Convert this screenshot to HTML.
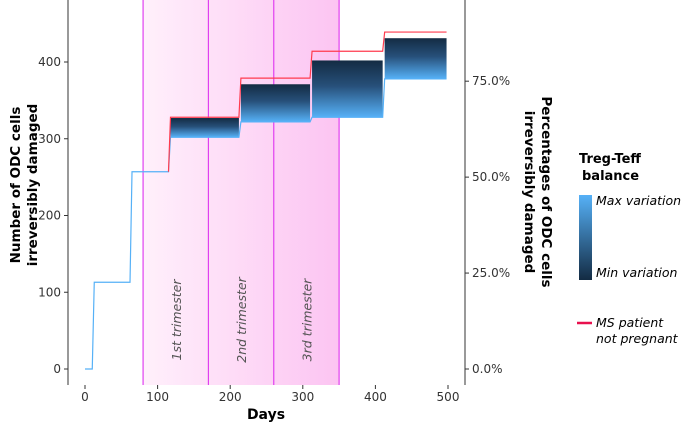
<!DOCTYPE html>
<html><head><meta charset="utf-8"><style>
body{margin:0;background:#fff;font-family:"Liberation Sans","DejaVu Sans",sans-serif}
svg text{font-family:"DejaVu Sans","Liberation Sans",sans-serif}
</style></head><body>
<svg id="chart" width="685" height="424" viewBox="0 0 685 424">
<defs>
<linearGradient id="preg" x1="0" x2="1" y1="0" y2="0"><stop offset="0" stop-color="#fff0fb"/><stop offset="1" stop-color="#fcc4f2"/></linearGradient>
<linearGradient id="band" x1="0" x2="0" y1="0" y2="1"><stop offset="0" stop-color="#132B43"/><stop offset="0.45" stop-color="#27507a"/><stop offset="1" stop-color="#56B1F7"/></linearGradient>
<linearGradient id="leg" x1="0" x2="0" y1="0" y2="1"><stop offset="0" stop-color="#56B1F7"/><stop offset="1" stop-color="#132B43"/></linearGradient>
</defs>
<g id="plot"></g>
<text x="266" y="419" font-size="14" font-weight="bold" text-anchor="middle">Days</text>
<text transform="translate(25,185) rotate(-90)" font-size="13.5" font-weight="bold" text-anchor="middle"><tspan x="0" y="-5">Number of ODC cells</tspan><tspan x="0" y="12">irreversibly damaged</tspan></text>
<text transform="translate(537,192) rotate(90)" font-size="13.5" font-weight="bold" text-anchor="middle"><tspan x="0" y="-5">Percentages of ODC cells</tspan><tspan x="0" y="12">irreversibly damaged</tspan></text>
<g>
<text x="579" y="163" font-size="13" font-weight="bold">Treg-Teff</text>
<text x="582" y="180" font-size="13" font-weight="bold">balance</text>
<rect x="579" y="195" width="13" height="85" fill="url(#leg)"/>
<text x="596" y="205" font-size="12.5" font-style="italic">Max variation</text>
<text x="596" y="277" font-size="12.5" font-style="italic">Min variation</text>
<line x1="577" x2="592" y1="323" y2="323" stroke="#e8104e" stroke-width="2.5"/>
<text x="596" y="327" font-size="12.5" font-style="italic">MS patient</text>
<text x="596" y="343" font-size="12.5" font-style="italic">not pregnant</text>
</g>
</svg>
<script>
const stepDays=[10,62,115,212,310,410];
const endDay=498;
const bandMin=[0,113,257,302,322,328,378];
const bandMax=[0,113,257,327,371,402,431];
const redLevels=[0,113,257,328,379,414,439];
const redStartStep=2;
const trimesterBounds=[80,170,260,350];
const trimesterLabels=["1st trimester","2nd trimester","3rd trimester"];
const xTicks=[0,100,200,300,400,500];
const yTicks=[0,100,200,300,400];
const pctTicks=[0,25,50,75];
const pctLabels=["0.0%","25.0%","50.0%","75.0%"];
const X=d=>85+d*0.726, Y=v=>369-v*0.7675;
const NS="http://www.w3.org/2000/svg", g=document.getElementById('plot');
function el(t,a,p){const e=document.createElementNS(NS,t);for(const k in a)e.setAttribute(k,a[k]);(p||g).appendChild(e);return e;}
let r=el('rect',{x:X(trimesterBounds[0]),y:0,width:X(trimesterBounds[3])-X(trimesterBounds[0]),height:385,fill:'url(#preg)'});


trimesterBounds.forEach((d,i)=>{const l=el('line',{x1:X(d),x2:X(d),y1:0,y2:385,stroke:'#e040f0','stroke-width':1.2});

});
trimesterLabels.forEach((t,i)=>{const cx=(X(trimesterBounds[i])+X(trimesterBounds[i+1]))/2+5;
const tx=el('text',{transform:`translate(${cx},320) rotate(-90)`,'font-size':12.5,'font-style':'italic',fill:'#555','text-anchor':'middle'});tx.textContent=t;

});
const starts=[0,...stepDays], ends=[...stepDays,endDay];
for(let i=0;i<starts.length;i++){
 const x0=X(starts[i])+(i?2:0),x1=X(ends[i]);
 if(bandMax[i]>bandMin[i]){const b=el('rect',{x:x0,y:Y(bandMax[i]),width:x1-x0,height:Y(bandMin[i])-Y(bandMax[i]),fill:'url(#band)'});
 
 }
}
function stepPath(levels,from){let d=`M${X(from?stepDays[from]:0)},${Y(levels[from])}`;
 for(let i=from;i<stepDays.length;i++){d+=` L${X(stepDays[i])},${Y(levels[i])} L${X(stepDays[i])+2},${Y(levels[i+1])}`;}
 return d+` L${X(endDay)},${Y(levels[levels.length-1])}`;}
let p=el('path',{d:stepPath(bandMin,0),fill:'none',stroke:'#56B1F7','stroke-width':1.2});


p=el('path',{d:stepPath(redLevels,redStartStep),fill:'none',stroke:'#ff3b4e','stroke-width':1.2});


el('line',{x1:68,x2:68,y1:0,y2:385,stroke:'#333'});
el('line',{x1:465,x2:465,y1:0,y2:385,stroke:'#333'});
xTicks.forEach(t=>{el('line',{x1:X(t),x2:X(t),y1:385,y2:389,stroke:'#333'});
const tx=el('text',{x:X(t),y:401,'font-size':12,'text-anchor':'middle',fill:'#333'});tx.textContent=t;

});
yTicks.forEach(t=>{el('line',{x1:64,x2:68,y1:Y(t),y2:Y(t),stroke:'#333'});
const tx=el('text',{x:61,y:Y(t)+4,'font-size':12,'text-anchor':'end',fill:'#333'});tx.textContent=t;

});
pctTicks.forEach((t,i)=>{const y=Y(t*5);el('line',{x1:465,x2:469,y1:y,y2:y,stroke:'#333'});
const tx=el('text',{x:472,y:y+4,'font-size':12,fill:'#333'});tx.textContent=pctLabels[i];

});
</script>
</body></html>
